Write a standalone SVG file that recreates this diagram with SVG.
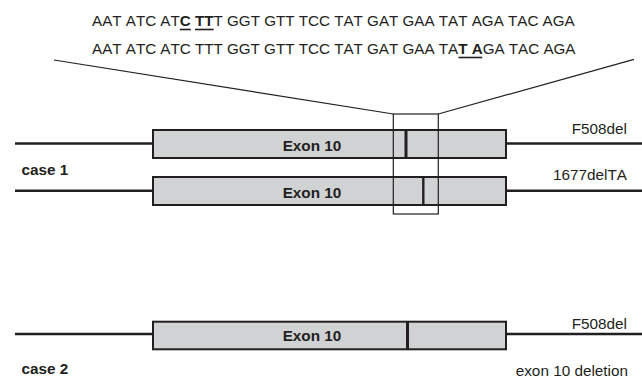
<svg xmlns="http://www.w3.org/2000/svg" width="642" height="384" viewBox="0 0 642 384">
<style>
text{font-kerning:none}
.seq{font-family:"Liberation Sans",Arial,sans-serif;font-size:15.2px;fill:#231f20}
.b{font-weight:bold}
.lbl{font-family:"Liberation Sans",Arial,sans-serif;font-size:15.3px;fill:#231f20}
.case{font-family:"Liberation Sans",Arial,sans-serif;font-size:15.3px;font-weight:bold;fill:#231f20}
.exon{font-family:"Liberation Sans",Arial,sans-serif;font-size:15.3px;font-weight:bold;fill:#231f20;text-anchor:middle}
.box{fill:#d1d2d4;stroke:#231f20;stroke-width:2}
.gene{stroke:#231f20;stroke-width:2.4;fill:none}
.mut{stroke:#231f20;stroke-width:3}
.thin{stroke:#231f20;stroke-width:1.2;fill:none}
.ul{stroke:#231f20;stroke-width:1.6}
</style>
<g id="sequence">
<text class="seq" x="92" y="26">AAT ATC AT<tspan class="b">C</tspan> <tspan class="b">TT</tspan>T GGT GTT TCC TAT GAT GAA TAT AGA TAC AGA</text>
<text class="seq" x="92" y="54">AAT ATC ATC TTT GGT GTT TCC TAT GAT GAA TA<tspan class="b">T A</tspan>GA TAC AGA</text>
</g>
<g id="connectors">
<line class="thin" x1="54" y1="60" x2="393.3" y2="114"/>
<line class="thin" x1="438.3" y1="114" x2="634" y2="59.3"/>
<line class="ul" x1="179.8" y1="29.5" x2="190.8" y2="29.5"/>
<line class="ul" x1="195" y1="29.5" x2="213.6" y2="29.5"/>
<line class="ul" x1="458.5" y1="57.5" x2="482.2" y2="57.5"/>
</g>
<g id="case1-allele1">
<line class="gene" x1="15" y1="143.5" x2="153" y2="143.5"/>
<line class="gene" x1="506" y1="143.5" x2="642" y2="143.5"/>
<rect class="box" x="153" y="130" width="353" height="28"/>
<line class="mut" x1="406" y1="130" x2="406" y2="158"/>
<text class="exon" x="312" y="151">Exon 10</text>
<text class="lbl" x="627" y="133.5" text-anchor="end">F508del</text>
</g>
<g id="case1-allele2">
<line class="gene" x1="15" y1="190.7" x2="153" y2="190.7"/>
<line class="gene" x1="506" y1="190.7" x2="642" y2="190.7"/>
<rect class="box" x="153" y="177" width="353" height="28"/>
<line class="mut" x1="423.3" y1="177" x2="423.3" y2="205" style="stroke-width:2.4"/>
<text class="exon" x="312" y="197.5">Exon 10</text>
<text class="lbl" x="627" y="179.5" text-anchor="end">1677delTA</text>
</g>
<g id="case1-label">
<text class="case" x="21.5" y="174.5">case 1</text>
</g>
<g id="window">
<rect class="thin" x="393.3" y="114" width="45" height="100"/>
</g>
<g id="case2-allele1">
<line class="gene" x1="15" y1="334" x2="153" y2="334"/>
<line class="gene" x1="506" y1="334" x2="642" y2="334"/>
<rect class="box" x="153" y="321.7" width="353" height="27.6"/>
<line class="mut" x1="407.5" y1="321.7" x2="407.5" y2="349.3"/>
<text class="exon" x="312" y="341">Exon 10</text>
<text class="lbl" x="627" y="329" text-anchor="end">F508del</text>
</g>
<g id="case2-label">
<text class="case" x="21.5" y="374">case 2</text>
<text class="lbl" x="628" y="376" text-anchor="end">exon 10 deletion</text>
</g>
</svg>
